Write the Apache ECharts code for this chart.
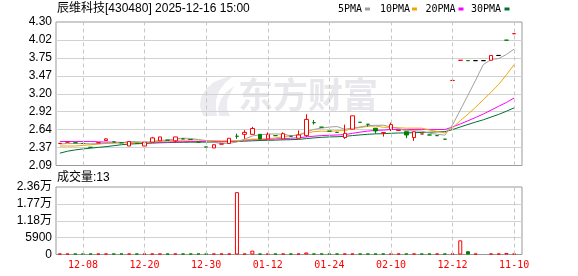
<!DOCTYPE html>
<html><head><meta charset="utf-8">
<script src="https://cdn.jsdelivr.net/npm/echarts@6/dist/echarts.min.js"></script>
<style>html,body{margin:0;padding:0;background:#fff}#c{width:578px;height:276px}</style>
</head><body><div id="c"></div>
<script>
const categories = ['12-02','12-03','12-04','12-08','12-09','12-10','12-11','12-14','12-17','12-18',
'12-19','12-20','12-22','12-23','12-24','12-25','12-26','12-27','12-29','12-30',
'12-31','01-02','01-05','01-06','01-07','01-08','01-09','01-12','01-13','01-14',
'01-15','01-16','01-19','01-20','01-22','01-24','01-27','01-28','01-29','02-03',
'02-04','02-05','02-06','02-10','02-11','02-12','02-13','02-16','02-17','02-18',
'02-19','12-12','12-15','12-16','11-03','11-04','11-05','11-06','11-07','11-10'];
// [open, close, low, high]
const ohlc = [
[2.43,2.43,2.43,2.43],[2.45,2.45,2.45,2.45],[2.44,2.44,2.44,2.44],[2.43,2.43,2.43,2.43],[2.37,2.37,2.37,2.37],
[2.44,2.44,2.44,2.44],[2.475,2.50,2.47,2.51],[2.453,2.453,2.453,2.453],[2.44,2.44,2.44,2.44],[2.39,2.46,2.39,2.46],
[2.43,2.43,2.43,2.43],[2.39,2.45,2.39,2.45],[2.45,2.515,2.45,2.53],[2.47,2.53,2.47,2.53],[2.48,2.48,2.48,2.48],
[2.47,2.53,2.44,2.53],[2.50,2.50,2.50,2.50],[2.49,2.49,2.49,2.49],[2.45,2.45,2.45,2.45],[2.375,2.375,2.375,2.375],
[2.36,2.41,2.36,2.41],[2.42,2.42,2.42,2.42],[2.43,2.51,2.43,2.51],[2.54,2.54,2.50,2.58],[2.57,2.60,2.50,2.635],
[2.57,2.66,2.57,2.685],[2.57,2.50,2.49,2.57],[2.50,2.57,2.50,2.60],[2.55,2.55,2.55,2.55],[2.50,2.58,2.50,2.60],
[2.54,2.54,2.54,2.54],[2.51,2.56,2.51,2.63],[2.55,2.80,2.53,2.88],[2.75,2.75,2.72,2.79],[2.68,2.68,2.68,2.68],
[2.62,2.62,2.62,2.62],[2.60,2.60,2.60,2.60],[2.52,2.585,2.50,2.72],[2.65,2.855,2.65,2.855],[2.755,2.755,2.755,2.755],
[2.725,2.725,2.69,2.725],[2.664,2.622,2.58,2.664],[2.596,2.596,2.535,2.596],[2.645,2.72,2.62,2.75],[2.63,2.63,2.63,2.63],
[2.61,2.56,2.51,2.61],[2.52,2.61,2.47,2.61],[2.576,2.576,2.576,2.576],[2.56,2.56,2.56,2.56],[2.55,2.55,2.55,2.55],
[2.495,2.495,2.495,2.495],[3.40,3.40,3.40,3.40],[3.71,3.71,3.71,3.71],[3.705,3.705,3.705,3.705],[3.705,3.705,3.705,3.705],
[3.705,3.705,3.705,3.705],[3.71,3.785,3.71,3.785],[3.785,3.785,3.785,3.785],[4.02,4.02,4.02,4.02],[4.12,4.12,4.12,4.12]];
// change vs previous close: 1 up, -1 down, 0 unchanged
const trend = [1,1,-1,-1,-1,1,1,-1,-1,1, -1,1,1,1,-1,1,-1,-1,-1,-1, 1,1,1,-1,1,1,-1,1,-1,1,
 -1,1,1,-1,-1,-1,-1,1,1,-1, -1,-1,1,1,1,-1,1,1,-1,-1, -1,1,1,-1,0,0,1,0,-1,1];
const ma5 = [2.42,2.43,2.43,2.43,2.424,2.426,2.436,2.439,2.441,2.459,2.457,2.447,2.459,2.477,2.481,2.501,2.511,2.506,2.49,2.469,
2.445,2.429,2.433,2.451,2.496,2.546,2.562,2.574,2.576,2.572,2.548,2.56,2.606,2.646,2.666,2.682,2.69,2.647,2.668,2.683,
2.704,2.708,2.711,2.684,2.659,2.626,2.623,2.619,2.587,2.571,2.558,2.716,2.943,3.173,3.405,3.645,3.722,3.737,3.80,3.883];
const ma10 = [2.39,2.39,2.39,2.40,2.41,2.42,2.43,2.435,2.44,2.444,2.444,2.444,2.452,2.462,2.47,2.479,2.479,2.483,2.484,2.475,
2.473,2.47,2.47,2.471,2.483,2.496,2.496,2.504,2.514,2.534,2.547,2.561,2.59,2.611,2.619,2.615,2.625,2.627,2.657,2.675,
2.693,2.699,2.679,2.676,2.671,2.665,2.666,2.665,2.636,2.615,2.592,2.67,2.781,2.88,2.988,3.102,3.219,3.34,3.487,3.644];
const ma20 = [2.46,2.46,2.46,2.46,2.46,2.455,2.45,2.45,2.445,2.44,2.44,2.44,2.445,2.45,2.45,2.455,2.455,2.46,2.46,
2.46,2.459,2.457,2.461,2.466,2.476,2.487,2.487,2.493,2.499,2.505,
2.51,2.516,2.53,2.541,2.551,2.555,2.56,2.565,2.585,2.604,
2.62,2.63,2.635,2.644,2.645,2.64,2.645,2.646,2.646,2.645,
2.643,2.684,2.73,2.778,2.83,2.883,2.942,3.003,3.061,3.13];
const ma30 = [2.28,2.31,2.33,2.345,2.357,2.37,2.38,2.395,2.41,2.42,2.425,2.43,2.435,2.44,2.443,2.446,2.448,2.449,2.45,2.45,
2.452,2.455,2.458,2.46,2.465,2.47,2.475,2.478,2.481,
2.485,2.488,2.492,2.504,2.515,2.524,2.53,2.533,2.538,2.551,
2.561,2.571,2.577,2.58,2.586,2.591,2.592,2.595,2.599,2.602,
2.608,2.611,2.643,2.683,2.722,2.759,2.794,2.836,2.877,2.926,2.978];
const volumes = [150,150,150,150,150,150,150,150,150,150,
150,150,150,150,150,150,150,150,150,150,
150,150,150,21800,150,1350,150,150,150,150,
150,150,700,150,150,150,150,150,150,150,
150,150,150,150,150,150,150,150,150,150,
150,150,4950,1150,150,null,150,150,550,13];
const volTrend = [1,1,-1,-1,-1,1,1,-1,-1,1, -1,1,1,1,-1,1,-1,-1,-1,-1, 1,1,1,1,1,1,-1,1,-1,1,
 -1,1,1,-1,-1,-1,-1,1,1,-1, -1,-1,-1,1,1,-1,1,-1,-1,1, -1,1,1,-1,1,1,1,1,1,1];
const priceTicks = ['2.09','2.37','2.64','2.92','3.20','3.47','3.75','4.02','4.30'];
const volTicks = ['0','5900','1.18万','1.77万','2.36万'];
const labelIdx = [3,11,19,27,35,43,51,59];
const titleText = '辰维科技[430480] 2025-12-16 15:00';
const volTitle = '成交量:13';

const RED = '#ff0000', GREEN = '#008000', BLACK = '#000000';
const C5 = '#a0a0a0', C10 = '#f0a800', C20 = '#ff00ff', C30 = '#007034';

const candleData = ohlc.map((v, i) => {
  const col = trend[i] > 0 ? RED : (trend[i] < 0 ? GREEN : BLACK);
  const fill = v[1] < v[0] ? GREEN : '#ffffff';
  return {value: v, itemStyle: {color: fill, color0: fill, borderColor: col, borderColor0: col, borderColorDoji: col}};
});
const volData = volumes.map((v, i) => v == null ? '-' : {
  value: v,
  itemStyle: volTrend[i] > 0 ? {color: '#ffffff', borderColor: RED, borderWidth: 1}
                             : {color: GREEN, borderColor: GREEN, borderWidth: 1}
});
const vLines = labelIdx.map(i => ({xAxis: categories[i]}));
const vLineStyle = {color: '#c8c8c8', type: [4, 3], width: 1};
const nulls = categories.map(() => null);

const chart = echarts.init(document.getElementById('c'), null, {renderer: 'canvas'});
const gridBase = {outerBoundsMode: 'none', containLabel: false};
const legendItems = [
  {name: '5PMA', color: C5, tx: 338, sx: 365},
  {name: '10PMA', color: C10, tx: 380, sx: 412},
  {name: '20PMA', color: C20, tx: 425.5, sx: 458.5},
  {name: '30PMA', color: C30, tx: 471, sx: 504.5}
];
const graphics = [
  {type: 'polygon', z: -10, silent: true,
   shape: {points: [[203,116],[200,106],[201,97],[206,89],[214,82],[224,78],[233,76],[225,83],[219,91],[216,100],[216,108],[217,116]]},
   style: {fill: '#ececf0'}},
  {type: 'polygon', z: -10, silent: true,
   shape: {points: [[219,116],[218,108],[221,99],[226,92],[234,86],[230,94],[227,101],[227,109],[230,116]]},
   style: {fill: '#ececf0'}},
  {type: 'text', z: -10, silent: true,
   style: {text: '东方财富', x: 238, y: 95, font: 'bold 35px "Noto Sans CJK SC"', fill: '#e8e8ec',
           textVerticalAlign: 'middle', verticalAlign: 'middle'}},
  {type: 'text', style: {text: titleText, x: 57, y: 8.5, font: '12px "Liberation Sans","Noto Sans CJK SC"', fill: '#000',
           textVerticalAlign: 'middle', verticalAlign: 'middle'}},
  {type: 'text', style: {text: volTitle, x: 57, y: 178, font: '12px "Liberation Sans","Noto Sans CJK SC"', fill: '#000',
           textVerticalAlign: 'middle', verticalAlign: 'middle'}}
];
legendItems.forEach(it => {
  graphics.push({type: 'text', style: {text: it.name, x: it.tx, y: 9, font: '10px "DejaVu Sans Mono"', fill: '#000',
    textVerticalAlign: 'middle', verticalAlign: 'middle'}});
  graphics.push({type: 'rect', shape: {x: it.sx, y: 7.5, width: 5, height: 3}, style: {fill: it.color}});
});

const option = {
  animation: false,
  backgroundColor: '#fff',
  graphic: graphics,
  grid: [
    Object.assign({left: 56, top: 22, width: 466, height: 143.5, show: true, borderColor: '#999', borderWidth: 1, backgroundColor: 'transparent'}, gridBase),
    Object.assign({left: 56, top: 22, width: 462, height: 143.5}, gridBase),
    Object.assign({left: 56, top: 187, width: 466, height: 67.5, show: true, borderColor: '#999', borderWidth: 1, backgroundColor: 'transparent'}, gridBase),
    Object.assign({left: 56, top: 187, width: 462, height: 67.5}, gridBase)
  ],
  xAxis: [
    {gridIndex: 0, type: 'value', min: 0, max: 1, show: false},
    {gridIndex: 1, type: 'category', data: categories, boundaryGap: true,
     axisLine: {show: false}, axisTick: {show: false}, axisLabel: {show: false}, splitLine: {show: false}},
    {gridIndex: 2, type: 'value', min: 0, max: 1, show: false},
    {gridIndex: 3, type: 'category', data: categories, boundaryGap: true,
     axisLine: {show: false}, axisTick: {show: false}, splitLine: {show: false},
     axisLabel: {interval: (idx) => labelIdx.indexOf(idx) >= 0, color: RED, fontFamily: 'DejaVu Sans Mono', fontSize: 10, margin: 6}}
  ],
  yAxis: [
    {gridIndex: 0, type: 'value', min: 0, max: 8, interval: 1,
     axisLine: {show: false}, axisTick: {show: false},
     axisLabel: {formatter: v => priceTicks[Math.round(v)], color: '#000', fontSize: 12, fontFamily: 'Liberation Sans', margin: 4},
     splitLine: {show: true, showMinLine: false, showMaxLine: false, lineStyle: {color: '#d2d2d2', width: 1}}},
    {gridIndex: 1, type: 'value', min: 2.09, max: 4.30, show: false, splitLine: {show: false}},
    {gridIndex: 2, type: 'value', min: 0, max: 4, interval: 1,
     axisLine: {show: false}, axisTick: {show: false},
     axisLabel: {formatter: v => volTicks[Math.round(v)], color: '#000', fontSize: 12, fontFamily: 'Liberation Sans, Noto Sans CJK SC', margin: 4},
     splitLine: {show: true, showMinLine: false, showMaxLine: false, lineStyle: {color: '#d2d2d2', width: 1}}},
    {gridIndex: 3, type: 'value', min: 0, max: 23600, show: false, splitLine: {show: false}}
  ],
  series: [
    {type: 'line', xAxisIndex: 1, yAxisIndex: 1, data: nulls, z: 1, silent: true, showSymbol: false,
     markLine: {symbol: 'none', silent: true, animation: false, label: {show: false}, lineStyle: vLineStyle, data: vLines}},
    {type: 'line', xAxisIndex: 3, yAxisIndex: 3, data: nulls, z: 1, silent: true, showSymbol: false,
     markLine: {symbol: 'none', silent: true, animation: false, label: {show: false}, lineStyle: vLineStyle, data: vLines}},
    {name: '30PMA', type: 'line', xAxisIndex: 1, yAxisIndex: 1, data: ma30, showSymbol: false, z: 2,
     lineStyle: {color: C30, width: 1}, itemStyle: {color: C30}},
    {name: '20PMA', type: 'line', xAxisIndex: 1, yAxisIndex: 1, data: ma20, showSymbol: false, z: 2,
     lineStyle: {color: C20, width: 1}, itemStyle: {color: C20}},
    {name: '10PMA', type: 'line', xAxisIndex: 1, yAxisIndex: 1, data: ma10, showSymbol: false, z: 2,
     lineStyle: {color: C10, width: 1}, itemStyle: {color: C10}},
    {name: '5PMA', type: 'line', xAxisIndex: 1, yAxisIndex: 1, data: ma5, showSymbol: false, z: 2,
     lineStyle: {color: C5, width: 1}, itemStyle: {color: C5}},
    {name: 'K', type: 'candlestick', xAxisIndex: 1, yAxisIndex: 1, data: candleData, barWidth: 4, z: 3,
     itemStyle: {borderWidth: 1}},
    {name: 'VOL', type: 'bar', xAxisIndex: 3, yAxisIndex: 3, data: volData, barWidth: 4, barMinHeight: 1, z: 3}
  ]
};
chart.setOption(option);
</script></body></html>
